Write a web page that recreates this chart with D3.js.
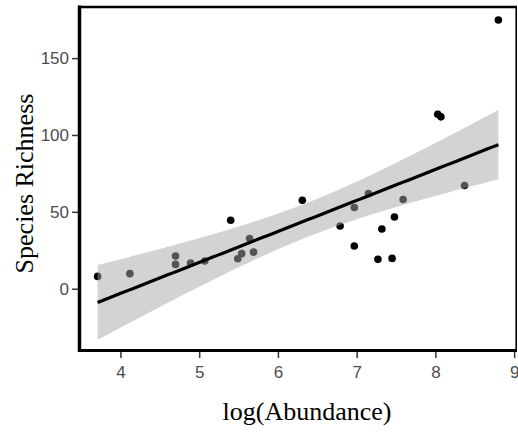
<!DOCTYPE html>
<html><head><meta charset="utf-8">
<script src="https://cdn.jsdelivr.net/npm/d3@7"></script>
<style>body{margin:0;background:#fff}svg{display:block}</style>
</head><body>
<script>
// Data
const logAbundance = [3.71, 4.12, 4.70, 4.70, 4.89, 5.07, 5.40, 5.49, 5.54, 5.64, 5.69,
  6.31, 6.79, 6.97, 7.15, 6.97, 7.32, 7.48, 7.27, 7.45, 7.59, 8.03, 8.07, 8.37, 8.80];
const speciesRichness = [8.0, 9.8, 21.2, 15.8, 16.7, 18.0, 44.5, 19.5, 22.8, 32.6, 23.8,
  57.5, 40.8, 52.8, 61.9, 27.8, 38.8, 46.6, 19.1, 19.7, 58.0, 113.5, 111.8, 67.1, 174.8];
const xTicks = [4, 5, 6, 7, 8, 9];
const yTicks = [0, 50, 100, 150];

const W = 518, H = 432;
const svg = d3.select("body").append("svg").attr("width", W).attr("height", H);

const x = d3.scaleLinear().domain([3.48, 9.03]).range([79.5, 516.5]);
const y = d3.scaleLinear().domain([-40.2, 182.6]).range([350.5, 8]);

// linear fit + 95% confidence band
const n = logAbundance.length;
const mx = d3.mean(logAbundance), my = d3.mean(speciesRichness);
let sxx = 0, sxy = 0;
for (let i = 0; i < n; i++) { sxx += (logAbundance[i]-mx)**2; sxy += (logAbundance[i]-mx)*(speciesRichness[i]-my); }
const b = sxy / sxx, a = my - b * mx;
let sse = 0;
for (let i = 0; i < n; i++) sse += (speciesRichness[i] - (a + b*logAbundance[i]))**2;
const s = Math.sqrt(sse / (n - 2));
const tcrit = 2.069; // t(0.975, 23)
const [xmin, xmax] = d3.extent(logAbundance);
const grid = d3.range(0, 81).map(i => xmin + (xmax - xmin) * i / 80);
const band = grid.map(g => {
  const fit = a + b * g;
  const se = s * Math.sqrt(1/n + (g-mx)**2 / sxx);
  return {x: g, fit, lo: fit - tcrit*se, hi: fit + tcrit*se};
});

// points (drawn under the translucent band)
svg.append("g").selectAll("circle").data(logAbundance).join("circle")
  .attr("cx", d => x(d)).attr("cy", (d, i) => y(speciesRichness[i]))
  .attr("r", 3.8).attr("fill", "#000");

svg.append("path").datum(band)
  .attr("d", d3.area().x(d => x(d.x)).y0(d => y(d.lo)).y1(d => y(d.hi)))
  .attr("fill", "#a8a8a8").attr("opacity", 0.5);

svg.append("path").datum(band)
  .attr("d", d3.line().x(d => x(d.x)).y(d => y(d.fit)))
  .attr("fill", "none").attr("stroke", "#000").attr("stroke-width", 3.2);

// axes
const xAxis = svg.append("g").attr("transform", "translate(0,352)")
  .call(d3.axisBottom(x).tickValues(xTicks).tickFormat(d3.format("d")).tickSize(6).tickSizeOuter(0));
const yAxis = svg.append("g").attr("transform", "translate(78,0)")
  .call(d3.axisLeft(y).tickValues(yTicks).tickFormat(d3.format("d")).tickSize(6).tickSizeOuter(0));
[xAxis, yAxis].forEach(g => {
  g.select(".domain").remove();
  g.selectAll(".tick line").attr("stroke", "#333").attr("stroke-width", 1.5);
  g.selectAll(".tick text").attr("fill", "#4d4d4d")
    .style("font-family", "'Liberation Sans', Arial, sans-serif").style("font-size", "17px");
});
xAxis.selectAll(".tick text").attr("y", 14);
yAxis.selectAll(".tick text").attr("x", -9);

// frame
svg.append("line").attr("x1", 79.5).attr("x2", 79.5).attr("y1", 5.5).attr("y2", 352).attr("stroke", "#000").attr("stroke-width", 3.5);
svg.append("line").attr("x1", 78).attr("x2", 517).attr("y1", 350.5).attr("y2", 350.5).attr("stroke", "#000").attr("stroke-width", 3);
svg.append("line").attr("x1", 78).attr("x2", 517).attr("y1", 7).attr("y2", 7).attr("stroke", "#000").attr("stroke-width", 2.5);
svg.append("line").attr("x1", 516.2).attr("x2", 516.2).attr("y1", 6).attr("y2", 352).attr("stroke", "#000").attr("stroke-width", 1.6);

// titles
svg.append("text").attr("x", 307).attr("y", 420).attr("text-anchor", "middle")
  .style("font-family", "'Liberation Serif', 'Times New Roman', serif").style("font-size", "26px")
  .attr("fill", "#000").text("log(Abundance)");
svg.append("text").attr("transform", "translate(33,183.5) rotate(-90)").attr("text-anchor", "middle")
  .style("font-family", "'Liberation Serif', 'Times New Roman', serif").style("font-size", "26px")
  .attr("fill", "#000").text("Species Richness");
</script>
</body></html>
